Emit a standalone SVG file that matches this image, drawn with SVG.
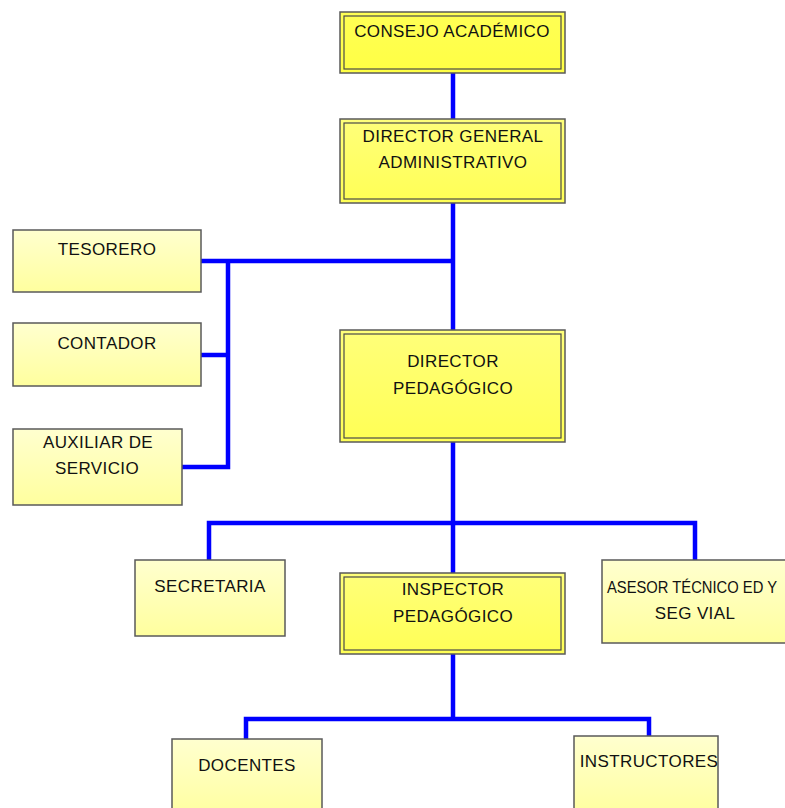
<svg xmlns="http://www.w3.org/2000/svg" width="785" height="808" viewBox="0 0 785 808">
  <defs>
    <linearGradient id="gMain" x1="0" y1="0" x2="0" y2="1">
      <stop offset="0" stop-color="#FFFF7A"/>
      <stop offset="1" stop-color="#FFFF55"/>
    </linearGradient>
    <linearGradient id="gTop" x1="0" y1="0" x2="0" y2="1">
      <stop offset="0" stop-color="#FFFF55"/>
      <stop offset="1" stop-color="#FFFF44"/>
    </linearGradient>
    <linearGradient id="gSub" x1="0" y1="0" x2="0" y2="1">
      <stop offset="0" stop-color="#FFFFCF"/>
      <stop offset="1" stop-color="#FFFF9E"/>
    </linearGradient>
    <style>
      .outer { stroke: #5a5a5a; stroke-width: 1.5; }
      .inner { fill: none; stroke: #4a4a4a; stroke-width: 1.2; }
      .sub { fill: url(#gSub); stroke: #5a5a5a; stroke-width: 1.5; }
      .lbl { font-family: "Liberation Sans", Arial, sans-serif; font-size: 17px; letter-spacing: 0.4px; fill: #111; text-anchor: middle; }
      .tight { letter-spacing: 0; }
      .conn { fill: none; stroke: #0000FF; stroke-width: 4.5; stroke-linejoin: miter; stroke-linecap: butt; }
    </style>
  </defs>

  <rect width="785" height="808" fill="#FFFFFF"/>

  <!-- connectors -->
  <g id="connectors">
    <path class="conn" d="M453 73 V119"/>
    <path class="conn" d="M453 203 V330"/>
    <path class="conn" d="M201 261 H453"/>
    <path class="conn" d="M228 261 V467 H181"/>
    <path class="conn" d="M199 355 H228"/>
    <path class="conn" d="M453 442 V573"/>
    <path class="conn" d="M209 560 V523 H695 V560"/>
    <path class="conn" d="M453 654 V719"/>
    <path class="conn" d="M246 739 V719 H649 V736"/>
  </g>

  <!-- main nodes (double border) -->
  <g id="consejo">
    <rect class="outer" x="340" y="12" width="225" height="61" fill="url(#gTop)"/>
    <rect class="inner" x="344" y="16" width="217" height="53"/>
    <text class="lbl" x="452" y="37">CONSEJO ACADÉMICO</text>
  </g>

  <g id="director-general">
    <rect class="outer" x="340" y="119" width="225" height="84" fill="url(#gMain)"/>
    <rect class="inner" x="344" y="123" width="217" height="76"/>
    <text class="lbl" x="453" y="142">DIRECTOR GENERAL</text>
    <text class="lbl" x="453" y="168">ADMINISTRATIVO</text>
  </g>

  <g id="director-pedagogico">
    <rect class="outer" x="340" y="330" width="225" height="112" fill="url(#gMain)"/>
    <rect class="inner" x="344" y="334" width="217" height="104"/>
    <text class="lbl" x="453" y="367">DIRECTOR</text>
    <text class="lbl" x="453" y="394">PEDAGÓGICO</text>
  </g>

  <g id="inspector-pedagogico">
    <rect class="outer" x="340" y="573" width="225" height="81" fill="url(#gMain)"/>
    <rect class="inner" x="344" y="577" width="217" height="73"/>
    <text class="lbl" x="453" y="595">INSPECTOR</text>
    <text class="lbl" x="453" y="622">PEDAGÓGICO</text>
  </g>

  <!-- staff nodes -->
  <g id="tesorero">
    <rect class="sub" x="13" y="230" width="188" height="62"/>
    <text class="lbl" x="107" y="255">TESORERO</text>
  </g>

  <g id="contador">
    <rect class="sub" x="13" y="323" width="188" height="63"/>
    <text class="lbl" x="107" y="349">CONTADOR</text>
  </g>

  <g id="auxiliar">
    <rect class="sub" x="13" y="429" width="169" height="76"/>
    <text class="lbl" x="98" y="448">AUXILIAR DE</text>
    <text class="lbl" x="97" y="474">SERVICIO</text>
  </g>

  <g id="secretaria">
    <rect class="sub" x="135" y="560" width="150" height="76"/>
    <text class="lbl" x="210" y="592">SECRETARIA</text>
  </g>

  <g id="asesor">
    <rect class="sub" x="602" y="560" width="190" height="83"/>
    <text class="lbl tight" x="692" y="593" textLength="170" lengthAdjust="spacingAndGlyphs">ASESOR TÉCNICO ED Y</text>
    <text class="lbl" x="695" y="619">SEG VIAL</text>
  </g>

  <g id="docentes">
    <rect class="sub" x="172" y="739" width="150" height="80"/>
    <text class="lbl" x="247" y="771">DOCENTES</text>
  </g>

  <g id="instructores">
    <rect class="sub" x="574" y="736" width="144" height="80"/>
    <text class="lbl" x="649" y="767">INSTRUCTORES</text>
  </g>
</svg>
